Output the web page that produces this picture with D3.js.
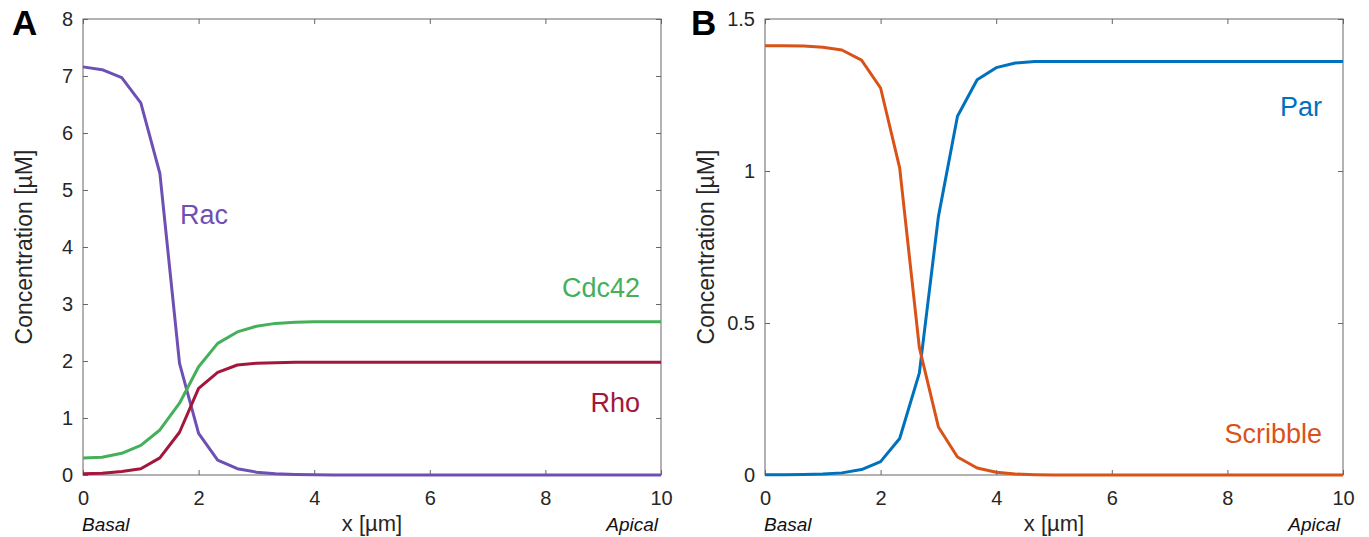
<!DOCTYPE html>
<html lang="en">
  <head>
    <meta charset="UTF-8" />
    <title>Polarity profiles</title>
    <script src="https://cdn.jsdelivr.net/npm/d3@7"></script>
    <style>
      html,
      body {
        margin: 0;
        padding: 0;
        background: #fff;
      }
      svg {
        display: block;
        font-family: 'Liberation Sans', Arial, sans-serif;
      }
    </style>
  </head>
  <body>
    <svg width="1369" height="537"></svg>
    <script>
      // x grid of the simulation (µm)
      const xs = [
        0, 0.33, 0.67, 1, 1.33, 1.67, 2, 2.33, 2.67, 3, 3.33, 3.67, 4, 4.33, 4.67, 5,
        5.33, 5.67, 6, 6.33, 6.67, 7, 7.33, 7.67, 8, 8.33, 8.67, 9, 9.33, 9.67, 10,
      ];

      // panel A
      const rac = [
        7.16, 7.11, 6.97, 6.53, 5.29, 1.96, 0.73, 0.26, 0.11, 0.05, 0.02, 0.01, 0.005, 0, 0, 0,
        0, 0, 0, 0, 0, 0, 0, 0, 0, 0, 0, 0, 0, 0, 0,
      ];
      const cdc42 = [
        0.3, 0.31, 0.38, 0.52, 0.79, 1.26, 1.9, 2.31, 2.51, 2.61, 2.66, 2.68, 2.69, 2.69, 2.69,
        2.69, 2.69, 2.69, 2.69, 2.69, 2.69, 2.69, 2.69, 2.69, 2.69, 2.69, 2.69, 2.69, 2.69, 2.69,
        2.69,
      ];
      const rho = [
        0.02, 0.03, 0.06, 0.11, 0.3, 0.75, 1.52, 1.8, 1.93, 1.96, 1.97, 1.98, 1.98, 1.98, 1.98,
        1.98, 1.98, 1.98, 1.98, 1.98, 1.98, 1.98, 1.98, 1.98, 1.98, 1.98, 1.98, 1.98, 1.98, 1.98,
        1.98,
      ];

      // panel B
      const par = [
        0.001, 0.001, 0.002, 0.003, 0.007, 0.018, 0.044, 0.12, 0.335, 0.85, 1.18, 1.3, 1.34,
        1.355, 1.36, 1.36, 1.36, 1.36, 1.36, 1.36, 1.36, 1.36, 1.36, 1.36, 1.36, 1.36, 1.36,
        1.36, 1.36, 1.36, 1.36,
      ];
      const scribble = [
        1.412, 1.412, 1.411, 1.407, 1.398, 1.365, 1.273, 1.01, 0.42, 0.158, 0.059, 0.023, 0.009,
        0.003, 0.001, 0, 0, 0, 0, 0, 0, 0, 0, 0, 0, 0, 0, 0, 0, 0, 0,
      ];

      const xTicks = [0, 2, 4, 6, 8, 10];
      const yTicksA = [0, 1, 2, 3, 4, 5, 6, 7, 8];
      const yTicksB = [0, 0.5, 1, 1.5];

      const svg = d3.select('svg');
      const axisColor = '#666';

      function panel(opts) {
        const { left, right, top, bottom } = opts;
        const g = svg.append('g');

        const x = d3.scaleLinear().domain([0, 10]).range([left, right]);
        const y = d3.scaleLinear().domain(opts.yDomain).range([bottom, top]);

        // box
        g.append('rect')
          .attr('x', left)
          .attr('y', top)
          .attr('width', right - left)
          .attr('height', bottom - top)
          .attr('fill', 'none')
          .attr('stroke', axisColor)
          .attr('stroke-width', 1);

        const fmt = d3.format('~g');

        const bottomAxis = g
          .append('g')
          .attr('transform', `translate(0,${bottom})`)
          .call(
            d3.axisBottom(x).tickValues(xTicks).tickFormat(fmt).tickSizeInner(-5).tickSizeOuter(0).tickPadding(16)
          );
        const topAxis = g
          .append('g')
          .attr('transform', `translate(0,${top})`)
          .call(d3.axisTop(x).tickValues(xTicks).tickFormat('').tickSizeInner(-5).tickSizeOuter(0));
        const leftAxis = g
          .append('g')
          .attr('transform', `translate(${left},0)`)
          .call(
            d3.axisLeft(y).tickValues(opts.yTicks).tickFormat(fmt).tickSizeInner(-5).tickSizeOuter(0).tickPadding(10)
          );
        const rightAxis = g
          .append('g')
          .attr('transform', `translate(${right},0)`)
          .call(d3.axisRight(y).tickValues(opts.yTicks).tickFormat('').tickSizeInner(-5).tickSizeOuter(0));

        [bottomAxis, topAxis, leftAxis, rightAxis].forEach(a => {
          a.select('.domain').remove();
          a.selectAll('line').attr('stroke', axisColor);
          a.selectAll('text')
            .attr('fill', '#262626')
            .style('font-size', '20px')
            .style('font-family', "'Liberation Sans', Arial, sans-serif");
        });

        const line = d3
          .line()
          .x((d, i) => x(xs[i]))
          .y(d => y(d));

        opts.series.forEach(s => {
          g.append('path')
            .datum(s.values)
            .attr('fill', 'none')
            .attr('stroke', s.color)
            .attr('stroke-width', 3)
            .attr('stroke-linejoin', 'round')
            .attr('d', line);
          g.append('text')
            .attr('x', s.lx)
            .attr('y', s.ly)
            .attr('text-anchor', s.anchor || 'start')
            .attr('fill', s.color)
            .style('font-size', '27px')
            .text(s.name);
        });

        // axis labels
        g.append('text')
          .attr('x', (left + right) / 2)
          .attr('y', 531)
          .attr('text-anchor', 'middle')
          .attr('fill', '#262626')
          .style('font-size', '22px')
          .text('x [µm]');
        g.append('text')
          .attr('x', left - 1)
          .attr('y', 531)
          .attr('fill', '#111')
          .style('font-size', '19px')
          .style('font-style', 'italic')
          .text('Basal');
        g.append('text')
          .attr('x', right - 3)
          .attr('y', 531)
          .attr('text-anchor', 'end')
          .attr('fill', '#111')
          .style('font-size', '19px')
          .style('font-style', 'italic')
          .text('Apical');
        g.append('text')
          .attr('transform', `translate(${opts.ylx},${(top + bottom) / 2}) rotate(-90)`)
          .attr('text-anchor', 'middle')
          .attr('fill', '#262626')
          .style('font-size', '23px')
          .text('Concentration [µM]');

        // panel letter
        g.append('text')
          .attr('x', opts.letterX)
          .attr('y', 35)
          .attr('fill', '#000')
          .style('font-size', '35px')
          .style('font-weight', 'bold')
          .text(opts.letter);
      }

      panel({
        left: 83,
        right: 661,
        top: 19,
        bottom: 475,
        yDomain: [0, 8],
        yTicks: yTicksA,
        ylx: 32,
        letter: 'A',
        letterX: 12,
        series: [
          { name: 'Rac', values: rac, color: '#6E50B4', lx: 180, ly: 224 },
          { name: 'Cdc42', values: cdc42, color: '#45AF5A', lx: 640, ly: 297, anchor: 'end' },
          { name: 'Rho', values: rho, color: '#A3173C', lx: 640, ly: 412, anchor: 'end' },
        ],
      });

      panel({
        left: 765,
        right: 1343,
        top: 19,
        bottom: 475,
        yDomain: [0, 1.5],
        yTicks: yTicksB,
        ylx: 714,
        letter: 'B',
        letterX: 691,
        series: [
          { name: 'Par', values: par, color: '#0072BD', lx: 1322, ly: 116, anchor: 'end' },
          { name: 'Scribble', values: scribble, color: '#D95319', lx: 1322, ly: 443, anchor: 'end' },
        ],
      });
    </script>
  </body>
</html>
